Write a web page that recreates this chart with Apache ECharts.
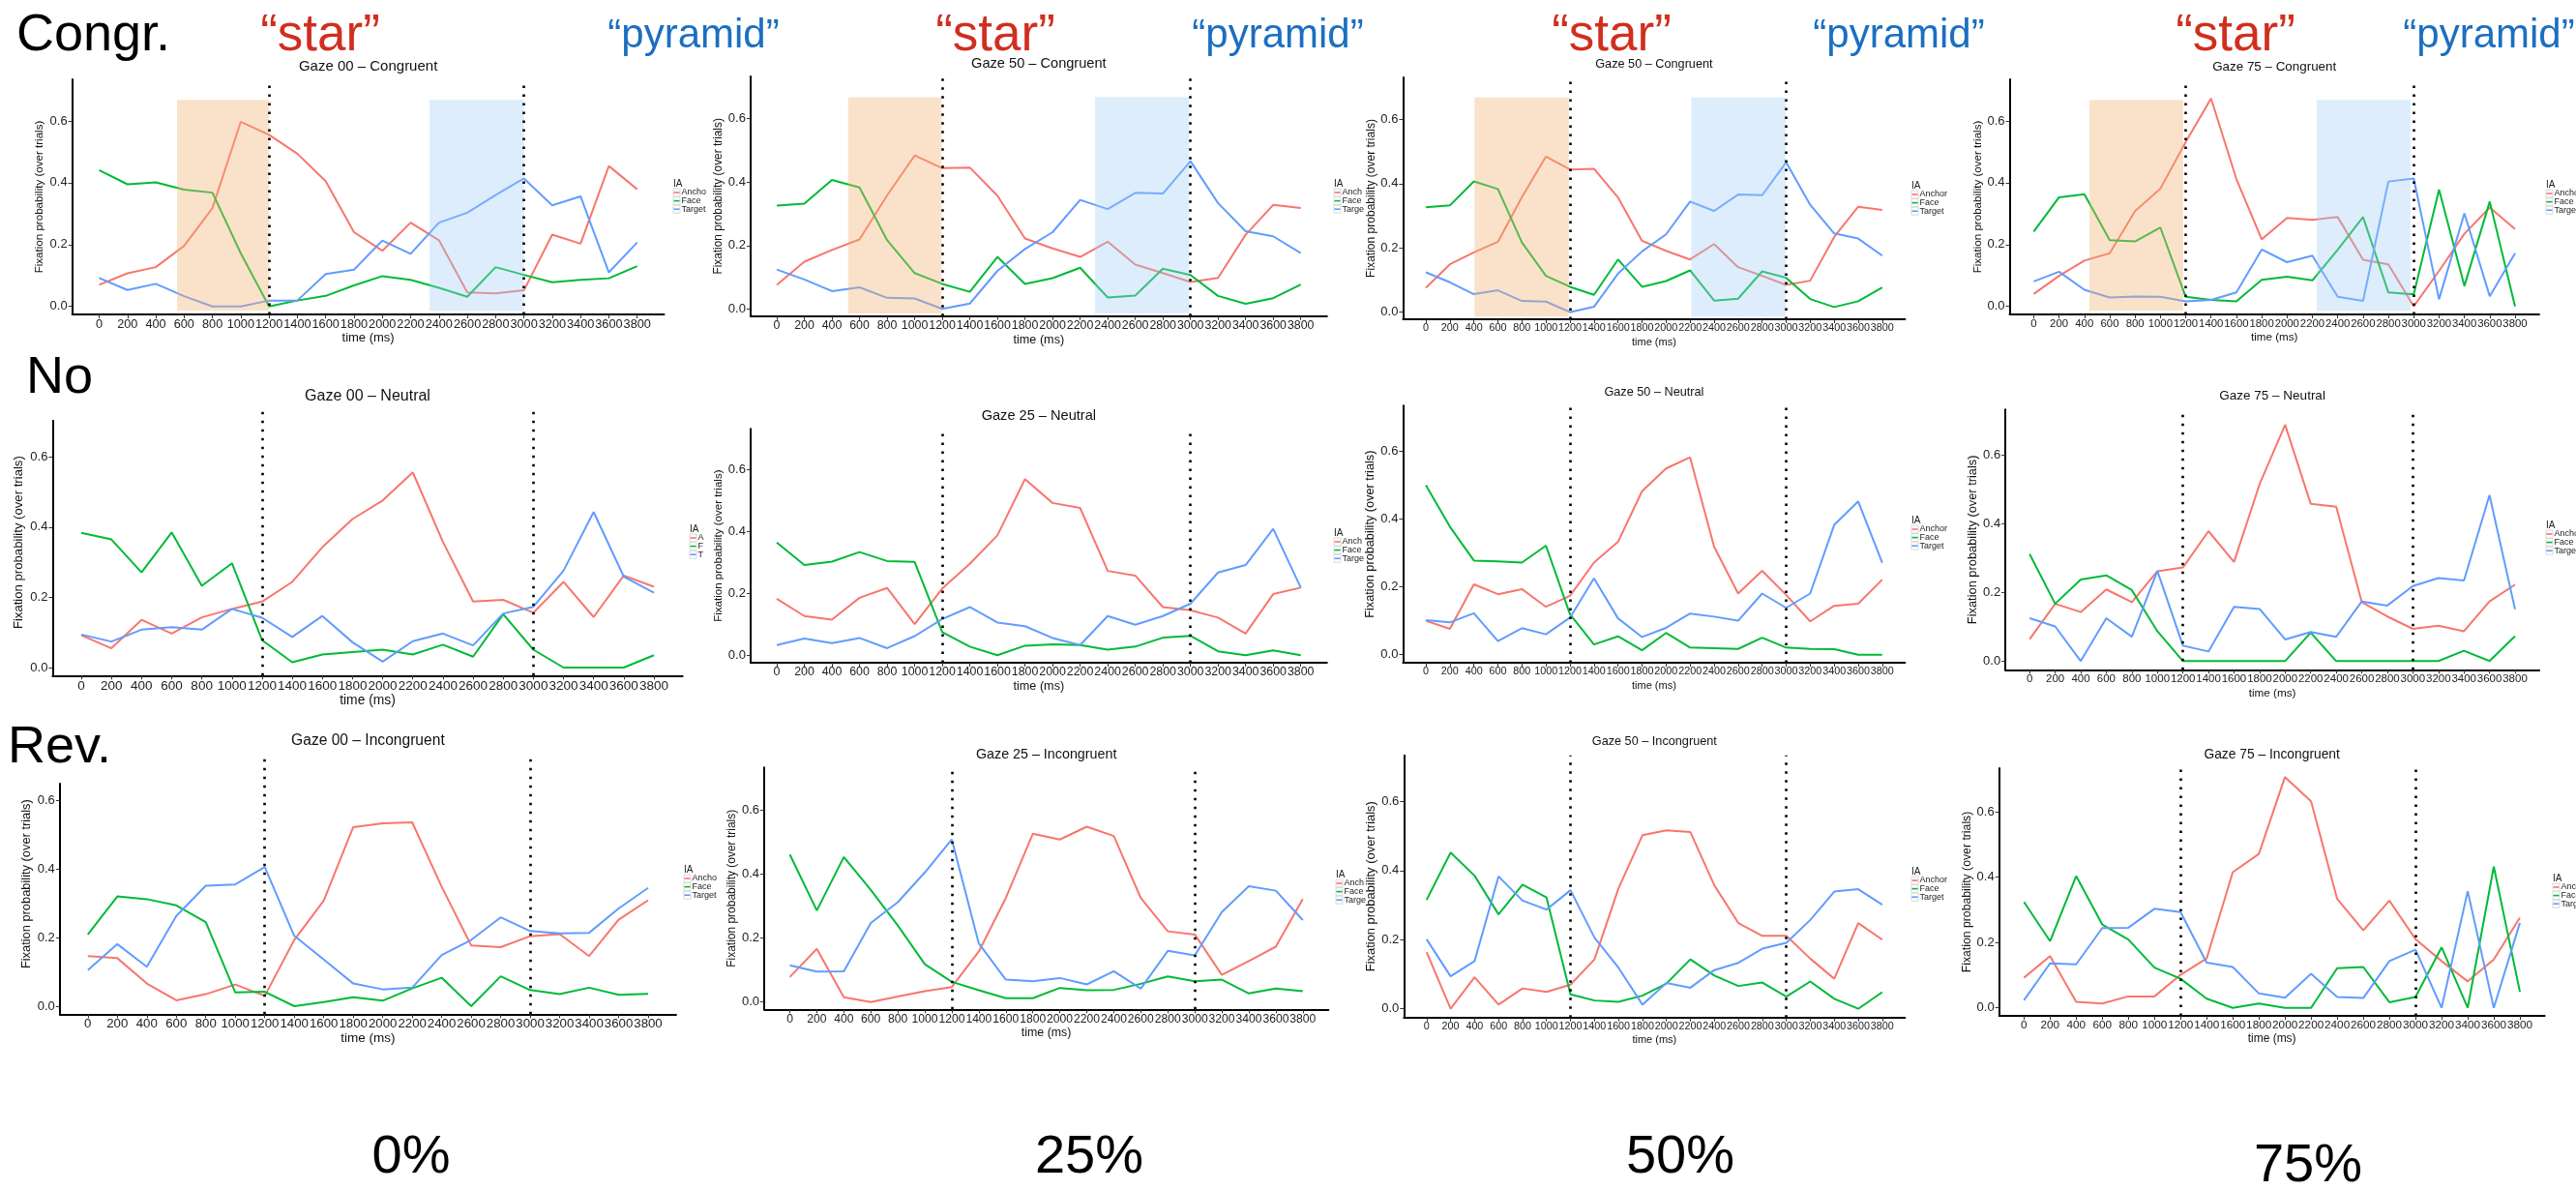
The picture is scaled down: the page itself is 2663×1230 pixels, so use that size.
<!DOCTYPE html>
<html>
<head>
<meta charset="utf-8">
<script src="https://cdn.jsdelivr.net/npm/echarts@6/dist/echarts.min.js"></script>
<style>
html,body{margin:0;padding:0;background:#fff;}
#main{width:2663px;height:1230px;}
</style>
</head>
<body>
<div id="main"></div>
<script>
// x ticks (ms) and y ticks
var times = [0,200,400,600,800,1000,1200,1400,1600,1800,2000,2200,2400,2600,2800,3000,3200,3400,3600,3800];
var yTicks = [0, 0.2, 0.4, 0.6];
var cueLines = [1200, 3000];

// Congruent
var anchor00C = [0.070,0.107,0.127,0.196,0.318,0.597,0.555,0.494,0.405,0.240,0.180,0.271,0.214,0.045,0.042,0.052,0.232,0.203,0.454,0.379];
var face00C   = [0.441,0.395,0.401,0.378,0.368,0.172,0.000,0.019,0.034,0.068,0.098,0.086,0.060,0.031,0.127,0.102,0.078,0.086,0.091,0.130];
var target00C = [0.092,0.053,0.073,0.033,0.000,0.000,0.019,0.019,0.105,0.119,0.213,0.170,0.271,0.303,0.360,0.414,0.327,0.356,0.110,0.207];

var anchor50C = [0.076,0.149,0.186,0.219,0.358,0.484,0.444,0.446,0.357,0.222,0.191,0.164,0.212,0.140,0.113,0.085,0.098,0.234,0.328,0.318];
var face50C   = [0.326,0.332,0.407,0.383,0.217,0.113,0.079,0.054,0.164,0.079,0.097,0.130,0.036,0.042,0.127,0.107,0.041,0.016,0.034,0.077];
var target50C = [0.124,0.093,0.056,0.068,0.035,0.033,0.000,0.017,0.120,0.189,0.242,0.344,0.315,0.366,0.364,0.466,0.334,0.245,0.229,0.176];

var anchor75C = [0.040,0.099,0.148,0.172,0.308,0.381,0.532,0.673,0.412,0.217,0.286,0.280,0.289,0.151,0.136,0.000,0.115,0.235,0.320,0.250];
var face75C   = [0.242,0.353,0.363,0.214,0.210,0.255,0.031,0.021,0.016,0.086,0.096,0.084,0.183,0.289,0.045,0.039,0.378,0.066,0.339,0.000];
var target75C = [0.081,0.112,0.054,0.029,0.032,0.031,0.016,0.021,0.045,0.184,0.143,0.164,0.031,0.018,0.404,0.414,0.023,0.301,0.033,0.172];

// Neutral
var anchor00N = [0.092,0.055,0.136,0.097,0.143,0.167,0.188,0.244,0.343,0.423,0.476,0.556,0.358,0.188,0.193,0.156,0.244,0.144,0.262,0.230];
var face00N   = [0.384,0.365,0.271,0.385,0.233,0.297,0.078,0.015,0.037,0.044,0.051,0.037,0.065,0.031,0.152,0.051,0.000,0.000,0.000,0.035];
var target00N = [0.094,0.074,0.108,0.115,0.108,0.167,0.142,0.087,0.147,0.072,0.017,0.075,0.097,0.063,0.154,0.173,0.276,0.443,0.259,0.213];

var anchor25N = [0.183,0.127,0.115,0.186,0.218,0.101,0.216,0.296,0.388,0.570,0.493,0.477,0.273,0.258,0.156,0.146,0.122,0.070,0.198,0.219];
var face25N   = [0.365,0.292,0.303,0.334,0.305,0.302,0.075,0.028,0.000,0.031,0.035,0.033,0.018,0.028,0.057,0.063,0.013,0.000,0.016,0.000];
var target25N = [0.033,0.054,0.039,0.056,0.023,0.062,0.117,0.156,0.106,0.094,0.056,0.033,0.127,0.099,0.127,0.167,0.268,0.292,0.409,0.219];

var anchor50N = [0.100,0.076,0.207,0.178,0.193,0.141,0.173,0.271,0.332,0.481,0.548,0.581,0.318,0.180,0.247,0.176,0.098,0.144,0.150,0.221];
var face50N   = [0.499,0.377,0.277,0.275,0.271,0.321,0.119,0.030,0.054,0.013,0.064,0.021,0.019,0.017,0.050,0.021,0.017,0.016,0.000,0.000];
var target50N = [0.102,0.095,0.122,0.040,0.078,0.060,0.109,0.225,0.107,0.052,0.079,0.121,0.112,0.100,0.180,0.138,0.180,0.382,0.451,0.271];

var anchor75N = [0.064,0.167,0.143,0.209,0.172,0.262,0.273,0.379,0.289,0.516,0.689,0.459,0.450,0.172,0.130,0.094,0.103,0.087,0.174,0.223];
var face75N   = [0.312,0.167,0.238,0.250,0.207,0.087,0.000,0.000,0.000,0.000,0.000,0.083,0.000,0.000,0.000,0.000,0.000,0.030,0.000,0.073];
var target75N = [0.125,0.101,0.000,0.125,0.071,0.263,0.045,0.028,0.158,0.152,0.063,0.085,0.071,0.174,0.162,0.219,0.242,0.235,0.484,0.151];

// Incongruent
var anchor00I = [0.146,0.140,0.066,0.017,0.035,0.063,0.030,0.193,0.308,0.522,0.533,0.536,0.348,0.177,0.172,0.204,0.210,0.146,0.252,0.309];
var face00I   = [0.209,0.320,0.312,0.294,0.245,0.040,0.042,0.000,0.012,0.026,0.016,0.052,0.083,0.000,0.087,0.047,0.035,0.054,0.033,0.036];
var target00I = [0.105,0.181,0.115,0.263,0.351,0.355,0.406,0.205,0.136,0.066,0.049,0.054,0.149,0.193,0.259,0.219,0.212,0.214,0.285,0.345];

var anchor25I = [0.078,0.166,0.015,0.000,0.017,0.034,0.047,0.158,0.325,0.526,0.508,0.548,0.519,0.325,0.221,0.211,0.085,0.128,0.173,0.322];
var face25I   = [0.461,0.286,0.453,0.350,0.239,0.118,0.063,0.037,0.012,0.012,0.044,0.037,0.038,0.057,0.080,0.065,0.070,0.027,0.042,0.034];
var target25I = [0.115,0.095,0.096,0.247,0.312,0.405,0.508,0.183,0.070,0.065,0.075,0.055,0.096,0.042,0.160,0.146,0.281,0.362,0.348,0.256];

var anchor50I = [0.164,0.000,0.091,0.012,0.059,0.049,0.070,0.143,0.348,0.502,0.516,0.511,0.357,0.248,0.211,0.211,0.145,0.087,0.248,0.200];
var face50I   = [0.315,0.452,0.385,0.273,0.359,0.322,0.042,0.024,0.020,0.038,0.073,0.143,0.096,0.066,0.076,0.035,0.079,0.029,0.000,0.048];
var target50I = [0.201,0.094,0.138,0.383,0.313,0.287,0.343,0.206,0.119,0.012,0.075,0.061,0.112,0.133,0.174,0.191,0.257,0.339,0.346,0.301];

var anchor75I = [0.092,0.158,0.018,0.013,0.035,0.035,0.101,0.151,0.415,0.471,0.706,0.632,0.333,0.237,0.328,0.210,0.143,0.081,0.148,0.276];
var face75I   = [0.324,0.204,0.403,0.255,0.209,0.123,0.089,0.028,0.000,0.013,0.000,0.000,0.121,0.125,0.017,0.033,0.185,0.000,0.432,0.049];
var target75I = [0.023,0.136,0.133,0.244,0.245,0.303,0.293,0.138,0.125,0.044,0.031,0.104,0.033,0.030,0.143,0.178,0.000,0.357,0.000,0.260];

// shaded windows (ms) in the congruent row: "star" and "pyramid"
var starWindows    = [[550,1200],[517,1195],[405,1190],[440,1180]];
var pyramidWindows = [[2334,3000],[2308,2990],[2210,2996],[2235,2975]];
var shadeTop = 0.668, shadeBottom = -0.014;

var panelTitles = [
  'Gaze 00 \u2013 Congruent','Gaze 50 \u2013 Congruent','Gaze 50 \u2013 Congruent','Gaze 75 \u2013 Congruent',
  'Gaze 00 \u2013 Neutral','Gaze 25 \u2013 Neutral','Gaze 50 \u2013 Neutral','Gaze 75 \u2013 Neutral',
  'Gaze 00 \u2013 Incongruent','Gaze 25 \u2013 Incongruent','Gaze 50 \u2013 Incongruent','Gaze 75 \u2013 Incongruent'
];
var panelData = [
  [anchor00C, face00C, target00C], [anchor50C, face50C, target50C], [anchor50C, face50C, target50C], [anchor75C, face75C, target75C],
  [anchor00N, face00N, target00N], [anchor25N, face25N, target25N], [anchor50N, face50N, target50N], [anchor75N, face75N, target75N],
  [anchor00I, face00I, target00I], [anchor25I, face25I, target25I], [anchor50I, face50I, target50I], [anchor75I, face75I, target75I]
];
var seriesNames = ['Anchor', 'Face', 'Target'];
var colors = ['#F8766D', '#00BA38', '#619CFF'];

// pixel layout of each panel: x of 0/3800 ms, y of 0/0.6, axis top/bottom, dotted top, y-name gap
var layout = [
  {x0:102.5, x38:658.7, y0:316.7, y06:125, top:82, bot:325, dot:82, ng:28},
  {x0:803, x38:1344.7, y0:319.3, y06:122.7, top:79, bot:326.7, dot:79, ng:26},
  {x0:1474, x38:1945.8, y0:322.7, y06:123.3, top:80, bot:330, dot:80, ng:23},
  {x0:2102.4, x38:2600, y0:316.7, y06:125, top:82, bot:325, dot:82, ng:24},
  {x0:84, x38:676, y0:690, y06:472.3, top:434, bot:698.3, dot:423, ng:29},
  {x0:803, x38:1344.7, y0:677.3, y06:485.7, top:443.3, bot:685, dot:443.3, ng:26},
  {x0:1474, x38:1945.8, y0:676.7, y06:466, top:419.3, bot:685, dot:419.3, ng:23},
  {x0:2098.2, x38:2600, y0:683.3, y06:470.7, top:423.3, bot:692.3, dot:423.3, ng:23.5},
  {x0:90.8, x38:670, y0:1040, y06:827.3, top:809.3, bot:1048.3, dot:779, ng:28},
  {x0:816.5, x38:1346.8, y0:1035.7, y06:837.3, top:793.3, bot:1043.3, dot:793.3, ng:25},
  {x0:1474.8, x38:1945.8, y0:1042.7, y06:828.3, top:780.7, bot:1051.7, dot:780.7, ng:24},
  {x0:2092.3, x38:2605, y0:1041.7, y06:839, top:794, bot:1050, dot:794, ng:24}
];
var titleY = [69,66,66,69,410,430,405,409,766,780,766,780];

// legends (partly hidden behind the next panel in the original)
var legends = [
  {x:696, y:190, labels:['Ancho','Face','Target']},
  {x:1379, y:190, labels:['Anch','Face','Targe']},
  {x:1976, y:192, labels:['Anchor','Face','Target']},
  {x:2632, y:191, labels:['Anchor','Face','Target']},
  {x:713, y:547, labels:['A','F','T']},
  {x:1379, y:551, labels:['Anch','Face','Targe']},
  {x:1976, y:538, labels:['Anchor','Face','Target']},
  {x:2632, y:543, labels:['Anchor','Face','Target']},
  {x:707, y:899, labels:['Ancho','Face','Target']},
  {x:1381, y:904, labels:['Anch','Face','Targe']},
  {x:1976, y:901, labels:['Anchor','Face','Target']},
  {x:2639, y:908, labels:['Anchor','Face','Target']}
];

var X_MIN = -190, X_MAX = 3990;
var FONT = '"Liberation Sans", Arial, Helvetica, sans-serif';

var chart = echarts.init(document.getElementById('main'));
var grids = [], xAxes = [], yAxes = [], series = [], graphics = [];

layout.forEach(function (L, i) {
  var s = (L.x38 - L.x0) / 3800;
  var ppu = (L.y0 - L.y06) / 0.6;
  var k = s / 0.1464;           // horizontal scale of this panel vs. the first
  var kv = ppu / 320;           // vertical scale
  var left = L.x0 + X_MIN * s;
  var width = (X_MAX - X_MIN) * s;
  var gTop = Math.min(L.top, L.dot);
  var yMin = -(L.bot - L.y0) / ppu;
  var yMax = (L.y0 - gTop) / ppu;
  var yAxisTop = (L.y0 - L.top) / ppu;
  var shortAxis = L.dot < L.top;
  var tickFont = Math.min(13.5, 200 * s / 2.3);

  grids.push({left: left, top: gTop, width: width, height: L.bot - gTop, outerBoundsMode: 'none'});

  xAxes.push({
    type: 'value', gridIndex: i, min: X_MIN, max: X_MAX,
    name: 'time (ms)', nameLocation: 'middle', nameGap: 18,
    nameTextStyle: {fontSize: 13 * k, color: '#111', fontFamily: FONT},
    axisLine: {show: true, onZero: false, lineStyle: {color: '#000', width: 2}},
    axisTick: {show: true, length: 4, customValues: times, lineStyle: {color: '#333', width: 1}},
    axisLabel: {customValues: times, fontSize: tickFont, color: '#222', margin: 4, fontFamily: FONT,
      showMinLabel: true, showMaxLabel: true, hideOverlap: false,
      formatter: function (v) { return String(v); }},
    splitLine: {show: false}
  });
  yAxes.push({
    type: 'value', gridIndex: i, min: yMin, max: yMax,
    name: 'Fixation probability (over trials)', nameLocation: 'middle', nameGap: L.ng,
    nameTextStyle: {fontSize: 11.6 * kv, color: '#111', fontFamily: FONT},
    axisLine: {show: !shortAxis, onZero: false, lineStyle: {color: '#000', width: 2}},
    axisTick: {show: true, length: 4, customValues: yTicks, lineStyle: {color: '#333', width: 1}},
    axisLabel: {customValues: yTicks, fontSize: 13, color: '#222', margin: 5, fontFamily: FONT,
      formatter: function (v) { return v.toFixed(1); }},
    splitLine: {show: false}
  });

  panelData[i].forEach(function (arr, c) {
    series.push({
      type: 'line', name: seriesNames[c], xAxisIndex: i, yAxisIndex: i,
      data: times.map(function (t, j) { return [t, arr[j]]; }),
      showSymbol: false, symbol: 'none', animation: false, silent: true,
      lineStyle: {color: colors[c], width: 2}, itemStyle: {color: colors[c]}, z: 3
    });
  });

  // dotted cue lines
  series.push({
    type: 'line', xAxisIndex: i, yAxisIndex: i, data: [], silent: true, animation: false, z: 6,
    markLine: {
      silent: true, animation: false, symbol: ['none', 'none'], label: {show: false},
      lineStyle: {color: '#000', type: [2.5, 6.5], width: 2.6, cap: 'butt'},
      data: cueLines.map(function (v) { return [{coord: [v, yMin]}, {coord: [v, yMax]}]; })
    }
  });

  // shorter y axis line where the panel frame is taller than the axis
  if (shortAxis) {
    series.push({
      type: 'line', xAxisIndex: i, yAxisIndex: i, data: [], silent: true, animation: false, z: 6,
      markLine: {
        silent: true, animation: false, symbol: ['none', 'none'], label: {show: false},
        lineStyle: {color: '#000', type: 'solid', width: 2},
        data: [[{coord: [X_MIN, yMin]}, {coord: [X_MIN, yAxisTop]}]]
      }
    });
  }

  // shaded windows in the first row
  if (i < 4) {
    series.push({
      type: 'line', xAxisIndex: i, yAxisIndex: i, data: [], silent: true, animation: false, z: 5,
      markArea: {
        silent: true, animation: false, z: 5,
        data: [
          [{coord: [starWindows[i][0], shadeBottom], itemStyle: {color: 'rgba(242,180,115,0.38)'}}, {coord: [starWindows[i][1], shadeTop]}],
          [{coord: [pyramidWindows[i][0], shadeBottom], itemStyle: {color: 'rgba(160,205,248,0.36)'}}, {coord: [pyramidWindows[i][1], shadeTop]}]
        ]
      }
    });
  }

  graphics.push({
    type: 'text', x: left + width / 2, y: titleY[i], silent: true,
    style: {text: panelTitles[i], fill: '#111', font: (15 * k).toFixed(1) + 'px ' + FONT, textAlign: 'center', textVerticalAlign: 'middle', verticalAlign: 'middle'}
  });
});

legends.forEach(function (g) {
  graphics.push({type: 'text', x: g.x, y: g.y, silent: true,
    style: {text: 'IA', fill: '#222', font: '10px ' + FONT, textAlign: 'left', textVerticalAlign: 'middle', verticalAlign: 'middle'}});
  g.labels.forEach(function (lab, c) {
    var yy = g.y + 9 + c * 8.6;
    graphics.push({type: 'rect', silent: true, shape: {x: g.x, y: yy - 4, width: 7, height: 8},
      style: {fill: '#fff', stroke: '#d0d0d0', lineWidth: 0.8}});
    graphics.push({type: 'line', silent: true, shape: {x1: g.x + 0.5, y1: yy, x2: g.x + 6.5, y2: yy},
      style: {stroke: colors[c], lineWidth: 1.6}});
    graphics.push({type: 'text', x: g.x + 8.5, y: yy, silent: true,
      style: {text: lab, fill: '#222', font: '9px ' + FONT, textAlign: 'left', textVerticalAlign: 'middle', verticalAlign: 'middle'}});
  });
});

// row / column annotations
var bigLabels = [
  {t: 'Congr.', x: 17, y: 37, size: 54, c: '#000', a: 'left'},
  {t: 'No', x: 27, y: 391, size: 54, c: '#000', a: 'left'},
  {t: 'Rev.', x: 8, y: 773, size: 54, c: '#000', a: 'left'},
  {t: '0%', x: 425, y: 1197, size: 56, c: '#000', a: 'center'},
  {t: '25%', x: 1126, y: 1197, size: 56, c: '#000', a: 'center'},
  {t: '50%', x: 1737, y: 1197, size: 56, c: '#000', a: 'center'},
  {t: '75%', x: 2386, y: 1206, size: 56, c: '#000', a: 'center'}
];
var starX = [331, 1029, 1666, 2311];
var pyramidX = [717, 1321, 1963, 2573];
starX.forEach(function (x) { bigLabels.push({t: '\u201Cstar\u201D', x: x, y: 37, size: 53, c: '#D12E1F', a: 'center'}); });
pyramidX.forEach(function (x) { bigLabels.push({t: '\u201Cpyramid\u201D', x: x, y: 37, size: 42, c: '#1C6FC0', a: 'center'}); });

bigLabels.forEach(function (b) {
  graphics.push({type: 'text', x: b.x, y: b.y, silent: true,
    style: {text: b.t, fill: b.c, font: b.size + 'px ' + FONT, textAlign: b.a, textVerticalAlign: 'middle', verticalAlign: 'middle'}});
});

chart.setOption({
  backgroundColor: '#fff',
  animation: false,
  textStyle: {fontFamily: FONT},
  grid: grids,
  xAxis: xAxes,
  yAxis: yAxes,
  series: series,
  graphic: {elements: graphics}
});
</script>
</body>
</html>
